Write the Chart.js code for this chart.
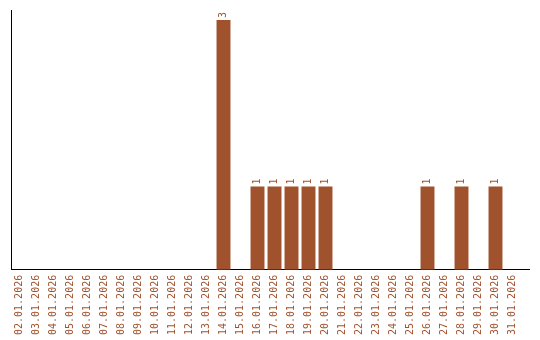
<!DOCTYPE html>
<html>
<head>
<meta charset="utf-8">
<script src="https://cdn.jsdelivr.net/npm/chart.js@4"></script>
<style>
  html, body { margin: 0; padding: 0; background: #fff; }
  #wrap { width: 540px; height: 340px; }
</style>
</head>
<body>
<div id="wrap"><canvas id="myChart" width="540" height="340"></canvas></div>
<script>
const days = ["02.01.2026", "03.01.2026", "04.01.2026", "05.01.2026", "06.01.2026", "07.01.2026",
  "08.01.2026", "09.01.2026", "10.01.2026", "11.01.2026", "12.01.2026", "13.01.2026",
  "14.01.2026", "15.01.2026", "16.01.2026", "17.01.2026", "18.01.2026", "19.01.2026",
  "20.01.2026", "21.01.2026", "22.01.2026", "23.01.2026", "24.01.2026", "25.01.2026",
  "26.01.2026", "27.01.2026", "28.01.2026", "29.01.2026", "30.01.2026", "31.01.2026"];
const counts = [0, 0, 0, 0, 0, 0, 0, 0, 0, 0, 0, 0,
  3, 0, 1, 1, 1, 1, 1, 0, 0, 0, 0, 0, 1, 0, 1, 0, 1, 0];

const brown = '#a0522d';
const monoFont = { family: 'DejaVu Sans Mono', size: 10 };

// numbers written sideways above each bar, and the baseline running on to the right edge
const valueLabels = {
  id: 'valueLabels',
  afterDatasetsDraw(chart) {
    const ctx = chart.ctx;
    const meta = chart.getDatasetMeta(0);
    const area = chart.chartArea;
    const baseY = Math.round(chart.scales.x.top + 0.5) - 0.5;
    ctx.save();
    ctx.strokeStyle = '#000';
    ctx.lineWidth = 1;
    ctx.beginPath();
    ctx.moveTo(area.right - 1, baseY);
    ctx.lineTo(530, baseY);
    ctx.stroke();
    ctx.fillStyle = brown;
    ctx.font = '10px "DejaVu Sans Mono"';
    ctx.textAlign = 'left';
    ctx.textBaseline = 'middle';
    meta.data.forEach((bar, i) => {
      if (!counts[i]) return;
      ctx.save();
      ctx.translate(bar.x, bar.y - 2);
      ctx.rotate(-Math.PI / 2);
      ctx.fillText(String(counts[i]), 0, 0);
      ctx.restore();
    });
    ctx.restore();
  }
};

new Chart(document.getElementById('myChart'), {
  type: 'bar',
  data: {
    labels: days,
    datasets: [{
      data: counts,
      backgroundColor: brown,
      categoryPercentage: 1,
      barPercentage: 0.82
    }]
  },
  options: {
    responsive: false,
    animation: false,
    layout: { padding: { left: 11, top: 10, right: 19, bottom: 0 } },
    plugins: { legend: { display: false }, tooltip: { enabled: false } },
    scales: {
      x: {
        grid: { display: false, drawTicks: false },
        border: { color: '#000', width: 1 },
        ticks: {
          color: brown,
          font: monoFont,
          minRotation: 90,
          maxRotation: 90,
          autoSkip: false,
          padding: 5
        }
      },
      y: {
        min: 0,
        max: 3.12,
        grid: { display: false, drawTicks: false },
        border: { color: '#000', width: 1 },
        ticks: { display: false }
      }
    }
  },
  plugins: [valueLabels]
});
</script>
</body>
</html>
